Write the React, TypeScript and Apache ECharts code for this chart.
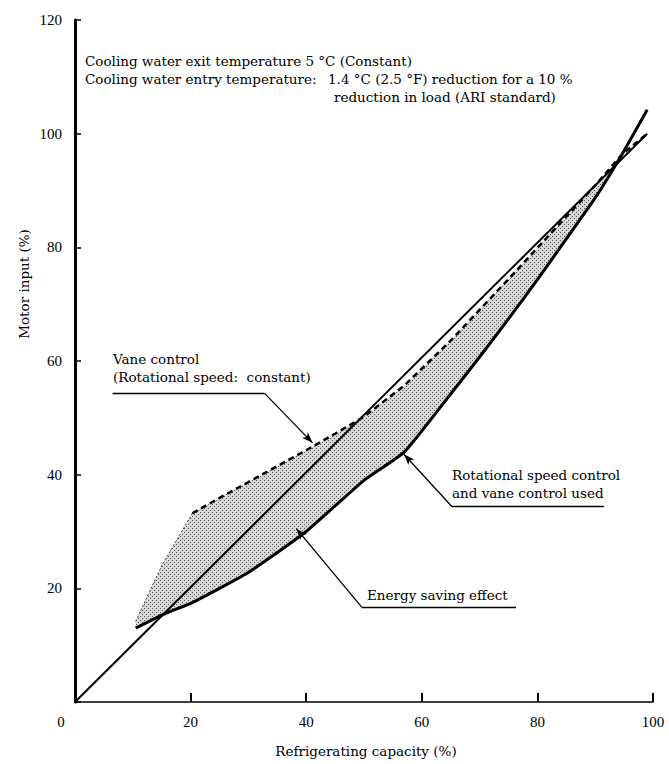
import React, { useEffect, useRef } from "react";
import * as echarts from "echarts";

// Refrigerating capacity (%) sample points shared by both control curves
const capX = [10.5, 15, 20.3, 25, 30, 35, 40, 45, 50, 57, 65, 70, 75, 80, 85, 90, 94.6, 99];
// Vane control (rotational speed constant) – motor input (%)
const vaneInput = [14.2, 24, 33.2, 35.9, 38.7, 41.5, 44.3, 47.2, 50.2, 55.7, 63.6, 69, 74.4, 79.9, 85.4, 90.9, 96.3, 100];
// Rotational speed control and vane control used – motor input (%)
const speedInput = [13, 15.3, 17.5, 20, 22.8, 26.3, 30, 34.5, 39, 44, 54.2, 60.7, 67.4, 74.3, 81.5, 88.7, 96.3, 104.2];
// Proportional straight line
const propX = [0, 99];
const propY = [0, 100];
// index where the vane curve becomes the bold dashed line
const vaneKink = 2;
// index where the two curves meet (end of the shaded saving area)
const meetIdx = 16;

const xTicks = [0, 20, 40, 60, 80, 100];
const yTicks = [20, 40, 60, 80, 100, 120];

const NUM_FONT = '"Liberation Serif", "DejaVu Serif", serif';
const TXT_FONT = '"DejaVu Serif", "Liberation Serif", serif';

function makeStipple() {
  const c = document.createElement("canvas");
  c.width = 4;
  c.height = 4;
  const g = c.getContext("2d");
  if (g) {
    g.fillStyle = "#d6d6d6";
    g.fillRect(0, 0, 4, 4);
    g.fillStyle = "#5a5a5a";
    g.fillRect(0, 0, 1, 1);
    g.fillRect(2, 2, 1, 1);
  }
  return c;
}

export default function App() {
  const ref = useRef<HTMLDivElement>(null);
  useEffect(() => {
    if (!ref.current) return;
    const chart = echarts.init(ref.current, null, { renderer: "svg" });
    const pts = (xs: number[], ys: number[]) => xs.map((x, i) => [x, ys[i]]);
    const stipple = makeStipple();
    const txt = (left: number, y: number, text: string) => ({
      type: "text",
      left,
      top: y - 8,
      style: { text, font: "13.5px " + TXT_FONT, fill: "#000" },
    });

    const option: any = {
      animation: false,
      backgroundColor: "#fff",
      grid: { left: 75, right: 16, top: 20, bottom: 62, containLabel: false },
      xAxis: {
        type: "value",
        min: 0,
        max: 100,
        interval: 20,
        axisLine: { show: true, lineStyle: { color: "#000", width: 1.5 } },
        axisTick: { show: true, inside: true, length: 9, lineStyle: { color: "#000", width: 2 } },
        splitLine: { show: false },
        axisLabel: {
          color: "#000",
          fontFamily: NUM_FONT,
          fontSize: 15,
          margin: 12,
          formatter: (v: number) => (xTicks.indexOf(v) === 0 ? "{z|" + v + "}" : String(v)),
          rich: { z: { padding: [0, 28, 0, 0], fontFamily: NUM_FONT, fontSize: 15, color: "#000" } },
        },
      },
      yAxis: {
        type: "value",
        min: 0,
        max: 120,
        interval: 20,
        axisLine: { show: true, lineStyle: { color: "#000", width: 3 } },
        axisTick: { show: true, inside: true, length: 6, lineStyle: { color: "#000", width: 1.5 } },
        splitLine: { show: false },
        axisLabel: {
          color: "#000",
          fontFamily: NUM_FONT,
          fontSize: 15,
          margin: 13,
          formatter: (v: number) => (yTicks.indexOf(v) >= 0 ? String(v) : ""),
        },
      },
      graphic: [
        txt(85, 62, "Cooling water exit temperature 5 °C (Constant)"),
        txt(85, 80, "Cooling water entry temperature:"),
        txt(328, 80, "1.4 °C (2.5 °F) reduction for a 10 %"),
        txt(334, 98, "reduction in load (ARI standard)"),
        txt(113, 360, "Vane control"),
        txt(113, 378, "(Rotational speed:  constant)"),
        txt(452, 476, "Rotational speed control"),
        txt(452, 494, "and vane control used"),
        txt(367, 596, "Energy saving effect"),
        {
          type: "text",
          x: 24,
          y: 284,
          rotation: Math.PI / 2,
          style: { text: "Motor input (%)", font: "13.5px " + TXT_FONT, fill: "#000", align: "center", verticalAlign: "middle" },
        },
        {
          type: "text",
          x: 366,
          y: 751,
          style: { text: "Refrigerating capacity (%)", font: "13.5px " + TXT_FONT, fill: "#000", align: "center", verticalAlign: "middle" },
        },
      ],
      series: [
        {
          type: "custom",
          name: "Energy saving effect",
          silent: true,
          z: 1,
          clip: false,
          data: [[capX[0], vaneInput[0]]],
          renderItem: (_params: any, api: any) => {
            const upper = capX.slice(0, meetIdx + 1).map((x, i) => api.coord([x, vaneInput[i]]));
            const lower = capX
              .slice(0, meetIdx + 1)
              .map((x, i) => api.coord([x, speedInput[i]]))
              .reverse();
            return {
              type: "polygon",
              shape: { points: upper.concat(lower) },
              style: {
                fill: { image: stipple, imageWidth: 4, imageHeight: 4, repeat: "repeat" },
                stroke: "none",
              },
            };
          },
        },
        {
          type: "line",
          name: "Vane control lead-in",
          symbol: "none",
          z: 3,
          data: pts(capX.slice(0, vaneKink + 1), vaneInput.slice(0, vaneKink + 1)),
          lineStyle: { color: "#444", width: 1, type: [2, 2] },
        },
        {
          type: "line",
          name: "Vane control",
          symbol: "none",
          z: 4,
          data: pts(capX.slice(vaneKink), vaneInput.slice(vaneKink)),
          lineStyle: { color: "#000", width: 2.5, type: [6, 4] },
        },
        {
          type: "line",
          name: "Rotational speed control",
          symbol: "none",
          smooth: 0.15,
          z: 5,
          data: pts(capX, speedInput),
          lineStyle: { color: "#000", width: 3 },
        },
        {
          type: "line",
          name: "Proportional",
          symbol: "none",
          z: 5,
          data: pts(propX, propY),
          lineStyle: { color: "#000", width: 2 },
          markLine: {
            silent: true,
            symbol: ["none", "none"],
            label: { show: false },
            lineStyle: { color: "#000", width: 1.3, type: "solid" },
            data: [
              [{ coord: [6.5, 54.3] }, { coord: [32.8, 54.3] }],
              [{ coord: [32.8, 54.3] }, { coord: [41.1, 45.6], symbol: "arrow", symbolSize: [6, 11] }],
              [{ coord: [49.6, 16.7] }, { coord: [76.3, 16.7] }],
              [{ coord: [49.6, 16.7] }, { coord: [38.3, 30.5], symbol: "arrow", symbolSize: [6, 11] }],
              [{ coord: [65.2, 34.4] }, { coord: [91.5, 34.4] }],
              [{ coord: [65.2, 34.4] }, { coord: [56.9, 43.6], symbol: "arrow", symbolSize: [6, 11] }],
            ],
          },
        },
      ],
    };
    chart.setOption(option);
    return () => chart.dispose();
  }, []);
  return (
    <div
      ref={ref}
      style={{ position: "absolute", left: 0, top: 0, width: 669, height: 764, background: "#fff" }}
    />
  );
}
